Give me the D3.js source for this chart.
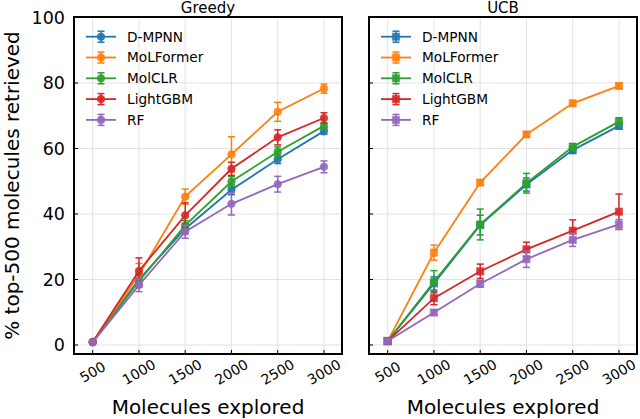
<!DOCTYPE html>
<html>
<head>
<meta charset="utf-8">
<script src="https://cdn.jsdelivr.net/npm/d3@7"></script>
<style>
  html, body { margin: 0; padding: 0; background: #fff; }
  svg { display: block; font-family: "DejaVu Sans", sans-serif; }
</style>
</head>
<body>
<svg id="chart" width="640" height="419"></svg>
<script>
  // ---- Data ----
  const steps = [500, 1000, 1500, 2000, 2500, 3000];
  const models = ["D-MPNN", "MoLFormer", "MolCLR", "LightGBM", "RF"];
  const colors = ["#1f77b4", "#ff7f0e", "#2ca02c", "#d62728", "#9467bd"];
  const yTicks = [0, 20, 40, 60, 80, 100];

  const greedyMean = [
    [0.9, 20.0, 35.5, 47.4, 56.7, 65.3],
    [0.9, 21.4, 45.3, 58.2, 71.2, 78.3],
    [0.9, 19.5, 36.5, 49.9, 59.0, 66.9],
    [0.9, 22.6, 39.6, 53.8, 63.4, 69.3],
    [0.8, 18.3, 34.6, 43.1, 49.1, 54.4],
  ];
  const greedyErr = [
    [0.3, 1.5, 1.5, 1.5, 1.3, 1.0],
    [0.3, 3.5, 2.3, 5.4, 2.9, 1.4],
    [0.3, 1.8, 1.5, 1.5, 1.5, 1.0],
    [0.3, 4.0, 3.8, 2.0, 2.3, 1.6],
    [0.3, 2.0, 2.0, 3.4, 2.4, 1.8],
  ];
  const ucbMean = [
    [1.2, 18.8, 36.6, 49.0, 59.5, 66.9],
    [1.2, 28.2, 49.6, 64.3, 73.8, 79.1],
    [1.2, 19.3, 36.8, 49.4, 60.5, 68.2],
    [1.2, 14.3, 22.5, 29.2, 34.9, 40.7],
    [1.2, 9.9, 18.7, 26.2, 32.1, 36.8],
  ];
  const ucbErr = [
    [0.3, 2.0, 3.0, 2.0, 1.0, 1.0],
    [0.3, 2.3, 0.8, 0.8, 0.8, 0.8],
    [0.3, 3.4, 4.7, 3.0, 1.0, 1.2],
    [0.3, 2.0, 2.2, 2.2, 3.3, 5.4],
    [0.3, 0.8, 1.0, 2.5, 2.0, 1.5],
  ];

  (function () {
    "use strict";

    // ---- Layout ----
    const plotTop = 17, plotBottom = 354;
    const panels = [
      { title: "Greedy", left: 74, right: 342, mean: greedyMean, err: greedyErr, marker: "circle", yLabels: true },
      { title: "UCB", left: 369, right: 637, mean: ucbMean, err: ucbErr, marker: "square", yLabels: false },
    ];

    const svg = d3.select("#chart");
    const y = d3.scaleLinear().domain([-2.75, 100.15]).range([plotBottom, plotTop]);

    function drawMarker(g, shape, cx, cy, color) {
      if (shape === "circle") {
        g.append("circle").attr("cx", cx).attr("cy", cy).attr("r", 3.8)
          .attr("fill", color).attr("fill-opacity", 0.9)
          .attr("stroke", color).attr("stroke-opacity", 0.55).attr("stroke-width", 1);
      } else {
        g.append("rect").attr("x", cx - 3.6).attr("y", cy - 3.6).attr("width", 7.2).attr("height", 7.2)
          .attr("fill", color).attr("fill-opacity", 0.9)
          .attr("stroke", color).attr("stroke-opacity", 0.55).attr("stroke-width", 1);
      }
    }

    function errorBar(g, cx, y0, y1, color) {
      g.append("line").attr("x1", cx).attr("x2", cx).attr("y1", y0).attr("y2", y1)
        .attr("stroke", color).attr("stroke-width", 1.5);
      [y0, y1].forEach((yy) => {
        g.append("line").attr("x1", cx - 3.5).attr("x2", cx + 3.5).attr("y1", yy).attr("y2", yy)
          .attr("stroke", color).attr("stroke-width", 1.5);
      });
    }

    panels.forEach((p) => {
      const x = d3.scaleLinear().domain([298, 3195]).range([p.left, p.right]);
      const g = svg.append("g");

      // grid
      g.selectAll(".gx").data(steps).join("line")
        .attr("x1", (d) => x(d)).attr("x2", (d) => x(d)).attr("y1", plotTop).attr("y2", plotBottom)
        .attr("stroke", "#e2e2e2").attr("stroke-width", 1);
      g.selectAll(".gy").data(yTicks).join("line")
        .attr("x1", p.left).attr("x2", p.right).attr("y1", (d) => y(d)).attr("y2", (d) => y(d))
        .attr("stroke", "#e2e2e2").attr("stroke-width", 1);

      // series
      p.mean.forEach((vals, i) => {
        const color = colors[i];
        const sg = g.append("g");
        const line = d3.line().x((d, j) => x(steps[j])).y((d) => y(d));
        sg.append("path").datum(vals).attr("d", line)
          .attr("fill", "none").attr("stroke", color).attr("stroke-width", 1.8);
        vals.forEach((v, j) => {
          const e = p.err[i][j];
          errorBar(sg, x(steps[j]), y(v - e), y(v + e), color);
        });
        vals.forEach((v, j) => drawMarker(sg, p.marker, x(steps[j]), y(v), color));
      });

      // frame
      g.append("rect").attr("x", p.left).attr("y", plotTop)
        .attr("width", p.right - p.left).attr("height", plotBottom - plotTop)
        .attr("fill", "none").attr("stroke", "#000").attr("stroke-width", 2);

      // ticks (inward)
      g.selectAll(".ty").data(yTicks).join("line")
        .attr("x1", p.left).attr("x2", p.left + 4).attr("y1", (d) => y(d)).attr("y2", (d) => y(d))
        .attr("stroke", "#000").attr("stroke-width", 1);
      g.selectAll(".tx").data(steps).join("line")
        .attr("x1", (d) => x(d)).attr("x2", (d) => x(d)).attr("y1", plotBottom).attr("y2", plotBottom - 4)
        .attr("stroke", "#000").attr("stroke-width", 1);

      if (p.yLabels) {
        g.selectAll(".ly").data(yTicks).join("text")
          .attr("x", p.left - 9).attr("y", (d) => y(d)).attr("dy", "0.36em")
          .attr("text-anchor", "end").attr("font-size", 17.5).text((d) => d);
      }
      g.selectAll(".lx").data(steps).join("text")
        .attr("transform", (d) => `translate(${x(d)},372) rotate(-30)`)
        .attr("text-anchor", "middle").attr("dy", "0.35em")
        .attr("font-size", 14).text((d) => d);

      // titles
      g.append("text").attr("x", (p.left + p.right) / 2).attr("y", 12.5)
        .attr("text-anchor", "middle").attr("font-size", 15).text(p.title);
      g.append("text").attr("x", (p.left + p.right) / 2).attr("y", 414)
        .attr("text-anchor", "middle").attr("font-size", 20).text("Molecules explored");

      // legend
      const lg = g.append("g");
      models.forEach((m, i) => {
        const ly = 36.7 + i * 20.8;
        const x0 = p.left + 12;
        lg.append("line").attr("x1", x0).attr("x2", x0 + 30).attr("y1", ly).attr("y2", ly)
          .attr("stroke", colors[i]).attr("stroke-width", 1.8);
        errorBar(lg, x0 + 15, ly - 5.5, ly + 5.5, colors[i]);
        drawMarker(lg, p.marker, x0 + 15, ly, colors[i]);
        lg.append("text").attr("x", x0 + 41).attr("y", ly).attr("dy", "0.36em")
          .attr("font-size", 13.7).text(m);
      });
    });

    // y axis label
    svg.append("text")
      .attr("transform", `translate(19,${(plotTop + plotBottom) / 2}) rotate(-90)`)
      .attr("text-anchor", "middle").attr("font-size", 20)
      .text("% top-500 molecules retrieved");
  })();
</script>
</body>
</html>
